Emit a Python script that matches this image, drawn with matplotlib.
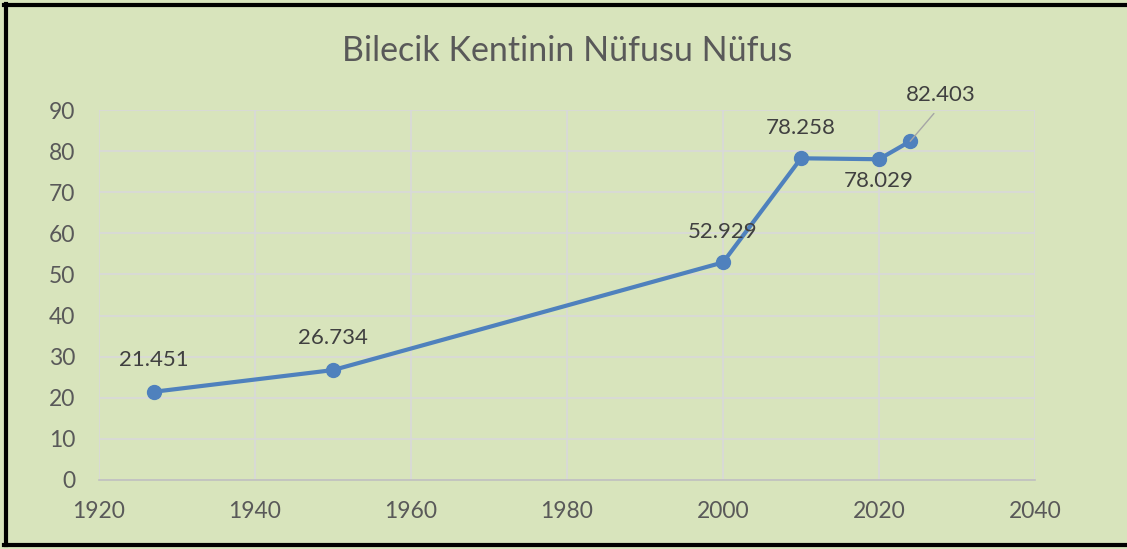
import matplotlib.pyplot as plt
from matplotlib.lines import Line2D

# Data (population in thousands)
years = [1927, 1950, 2000, 2010, 2020, 2024]
population = [21.451, 26.734, 52.929, 78.258, 78.029, 82.403]
# label offsets in points (dx, dy)
label_offsets = [(0, 23), (0, 23), (0, 22), (0, 22), (0, -16), (22, 33)]

x_ticks = [1920, 1940, 1960, 1980, 2000, 2020, 2040]
y_ticks = [0, 10, 20, 30, 40, 50, 60, 70, 80, 90]

bg = '#D8E4BC'
plt.rcParams['font.family'] = ['Lato', 'DejaVu Sans']

fig = plt.figure(figsize=(11.27, 5.49), dpi=100, facecolor=bg)
ax = fig.add_axes([0.0878, 0.1257, 0.8306, 0.6739])
ax.set_facecolor(bg)

ax.plot(years, population, color='#4F81BD', linewidth=3, marker='o',
        markersize=10, zorder=3)

for x, y, (dx, dy) in zip(years, population, label_offsets):
    if dx != 0:
        # label moved away from its point, with a leader line
        ax.annotate(f"{y:.3f}", (x, y), xytext=(dx, dy), textcoords='offset points',
                    ha='center', va='center', fontsize=16, color='#404040',
                    arrowprops=dict(arrowstyle='-', color='#A6A6A6', lw=1,
                                    relpos=(0.5, 0), shrinkA=5, shrinkB=0))
    else:
        ax.annotate(f"{y:.3f}", (x, y), xytext=(dx, dy), textcoords='offset points',
                    ha='center', va='center', fontsize=16, color='#404040')

ax.set_xlim(1920, 2040)
ax.set_ylim(0, 90)
ax.set_xticks(x_ticks)
ax.set_yticks(y_ticks)
ax.tick_params(length=0, labelsize=16.5, colors='#595959')
ax.tick_params(axis='x', pad=15)
ax.tick_params(axis='y', pad=17)
ax.grid(True, color='#D9D9D9', linewidth=1.2)
ax.set_axisbelow(True)
for s in ['top', 'right', 'left']:
    ax.spines[s].set_visible(False)
ax.spines['bottom'].set_color('#BFBFBF')
ax.spines['bottom'].set_linewidth(1.2)

fig.text(0.503, 0.907, "Bilecik Kentinin Nüfusu Nüfus", ha='center', va='center',
         fontsize=24.5, color='#595959')

# black frame (right side cut off in the original)
W, H = 1127, 549
fig.add_artist(Line2D([4 / W, 1], [1 - 4.5 / H, 1 - 4.5 / H], color='black', linewidth=3,
                      transform=fig.transFigure))
fig.add_artist(Line2D([4 / W, 1], [4 / H, 4 / H], color='black', linewidth=3,
                      transform=fig.transFigure))
fig.add_artist(Line2D([6 / W, 6 / W], [4 / H, 1 - 4 / H], color='black', linewidth=3,
                      transform=fig.transFigure))

fig.savefig('out.png', dpi=100, facecolor=bg)
